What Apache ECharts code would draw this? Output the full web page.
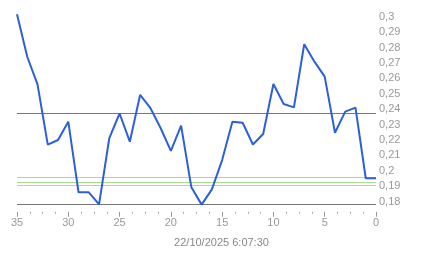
<!DOCTYPE html>
<html>
<head>
<meta charset="utf-8">
<script src="https://cdn.jsdelivr.net/npm/echarts@6/dist/echarts.min.js"></script>
<style>
html,body{margin:0;padding:0;background:#fff;}
#chart{width:443px;height:258px;}
</style>
</head>
<body>
<div id="chart"></div>
<script>
// x positions (units before the timestamp), from 35 down to 0
const xValues = [35,34,33,32,31,30,29,28,27,26,25,24,23,22,21,20,19,18,17,16,15,14,13,12,11,10,9,8,7,6,5,4,3,2,1,0];
const seriesValues = [0.3015,0.2740,0.2561,0.2170,0.2200,0.2319,0.1861,0.1861,0.1783,0.2213,0.2372,0.2189,0.2492,0.2408,0.2278,0.2129,0.2293,0.1893,0.1781,0.1880,0.2070,0.2319,0.2312,0.2171,0.2239,0.2563,0.2434,0.2412,0.2821,0.2708,0.2611,0.2247,0.2384,0.2410,0.1952,0.1952];
const yTickLabels = [0.18,0.19,0.20,0.21,0.22,0.23,0.24,0.25,0.26,0.27,0.28,0.29,0.30];
const grayLines = [0.2373, 0.1783];
const yellowLines = [0.1959];
const greenLines = [0.1926, 0.1907];
const titleText = '22/10/2025 6:07:30';

const chart = echarts.init(document.getElementById('chart'), null, {renderer:'canvas'});
const font = 'Liberation Sans, Arial, sans-serif';
const mk = (vals, color) => vals.map(v => ({yAxis: v, lineStyle: {color: color, width: 1, type: 'solid'}}));

chart.setOption({
  animation: false,
  backgroundColor: '#fff',
  title: {
    text: titleText, left: 'center', top: 232,
    textStyle: {fontFamily: font, fontSize: 11, fontWeight: 'normal', color: '#888'}
  },
  grid: {left: 17, right: 67, top: 13.58, bottom: 53.22, containLabel: false},
  xAxis: {
    type: 'value', inverse: true, min: 0, max: 35, interval: 5,
    offset: 7,
    axisLine: {show: false},
    axisTick: {show: true, length: 5, lineStyle: {color: '#999'}},
    minorTick: {show: true, splitNumber: 4, length: 2, lineStyle: {color: '#aaa'}},
    splitLine: {show: false},
    minorSplitLine: {show: false},
    axisLabel: {show: true, margin: 6, color: '#999', fontFamily: font, fontSize: 11, showMinLabel: true, showMaxLabel: true}
  },
  yAxis: {
    type: 'value', position: 'right', min: 0.178, max: 0.302,
    axisLine: {show: false},
    axisTick: {show: false},
    splitLine: {show: false},
    axisLabel: {
      show: true, margin: 3, color: '#999', fontFamily: font, fontSize: 11,
      customValues: yTickLabels,
      formatter: v => String(+(+v).toFixed(2)).replace('.', ',')
    }
  },
  series: [{
    type: 'line',
    data: xValues.map((x, i) => [x, seriesValues[i]]),
    symbol: 'none',
    z: 5,
    lineStyle: {color: '#2b60da', width: 2},
    markLine: {
      silent: true, symbol: 'none', precision: 6, label: {show: false},
      data: [].concat(mk(grayLines, '#777'), mk(yellowLines, '#e9c850'), mk(greenLines, '#a9dc93'))
    }
  }]
});
</script>
</body>
</html>
